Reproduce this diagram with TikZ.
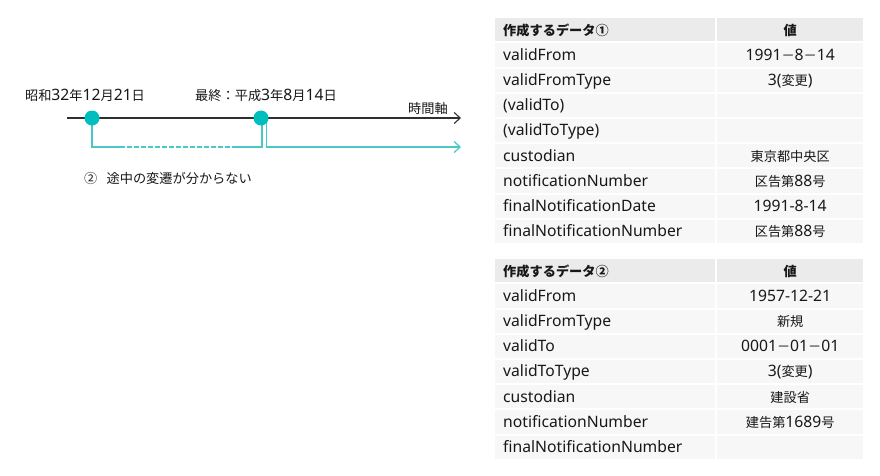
\documentclass[tikz,border=0pt]{standalone}
\usepackage{fontspec}
\setmainfont{Noto Sans}
\newfontfamily\jp{Noto Sans CJK JP}
\newcommand\jtext[1]{{\jp\fontsize{13.2}{15}\selectfont #1}}
\usetikzlibrary{arrows.meta,backgrounds}
\definecolor{tealdot}{HTML}{00BEBE}
\definecolor{tealline}{HTML}{48C8C8}
\definecolor{headgray}{HTML}{EBEBEB}
\definecolor{rowgray}{HTML}{F7F7F7}
\definecolor{txt}{HTML}{181818}
\tikzset{
  dot/.style={circle,fill=tealdot,inner sep=0pt,minimum size=15pt},
  lbl/.style={font=\fontsize{15.7}{17}\selectfont,text=txt,inner sep=0pt},
  axis/.style={line width=1.1pt,draw=txt!90,-{Straight Barb[length=6pt,width=11pt]}},
  flow/.style={line width=1.2pt,draw=tealline},
  namecell/.style={fill=#1,anchor=west,text width=204pt,inner xsep=8pt,inner ysep=0pt,
    minimum height=23.2pt,align=left,text=txt,text height=12.5pt,text depth=2pt,
    font=\fontsize{15.7}{17}\selectfont},
  valcell/.style={fill=#1,anchor=west,minimum width=146pt,inner sep=0pt,
    minimum height=23.2pt,text=txt,text height=12.5pt,text depth=2pt,
    font=\fontsize{15.7}{17}\selectfont},
}
\begin{document}
\begin{tikzpicture}[x=1pt,y=-1pt]
  \useasboundingbox (0,0) rectangle (880,475);
  \begin{scope}[on background layer]
    \fill[white] (0,0) rectangle (880,475);
  \end{scope}

  %%%%%%%%%%%%%%%%%%%%%%%%%%%%%%%%%%%%%%%%%%%%%%%%%%%%%%%%%%%%%%%%%%%%%%%%%%%
  %%%%  Timeline
  \coordinate (t0) at (67,118);
  \coordinate (t1) at (461,118);
  \draw[axis] (t0) -- (t1);

  \node[dot] (first) at (92,118) {};
  \node[dot] (last) at (261,118) {};

  \coordinate (dashA) at (120,147);
  \coordinate (dashB) at (232,147);
  \coordinate (now) at (461,147);

  \begin{scope}[on background layer]
    \draw[flow] (first.center) |- (dashA);
    \draw[flow,dash pattern=on 4.5pt off 2.5pt] (dashA) -- (dashB);
    \draw[flow] (dashB) -| ([xshift=1pt]last.center);
    \draw[flow,-{Straight Barb[length=6pt,width=11pt]}] ([xshift=5.5pt]last.center) |- (now);
  \end{scope}

  \node[lbl] (firstlbl) at (85,95) {\jtext{昭和}32\jtext{年}12\jtext{月}21\jtext{日}};
  \node[lbl] (lastlbl) at (266,95) {\jtext{最終：平成}3\jtext{年}8\jtext{月}14\jtext{日}};
  \node[lbl,anchor=east] (axislbl) at (448,108) {\jtext{時間軸}};
  \node[lbl] (note) at (168,178) {\jtext{②\hspace{0.7em}途中の変遷が分からない}};

  %%%%%%%%%%%%%%%%%%%%%%%%%%%%%%%%%%%%%%%%%%%%%%%%%%%%%%%%%%%%%%%%%%%%%%%%%%%
  %%%%  Data 1
  \pgfmathsetmacro\topA{29.8}
  \node[namecell=headgray] (ahead) at (495,\topA) {\jtext{\bfseries 作成するデータ①}};
  \node[valcell=headgray] (aheadv) at (717,\topA) {\jtext{\bfseries 値}};
  \foreach \n/\v [count=\i from 1] in
    {validFrom/1991\jtext{－}8\jtext{－}14,
     validFromType/3(\jtext{変更}),
     (validTo)/{},
     (validToType)/{},
     custodian/\jtext{東京都中央区},
     notificationNumber/\jtext{区告第}88\jtext{号},
     finalNotificationDate/1991-8-14,
     finalNotificationNumber/\jtext{区告第}88\jtext{号}}
  {\pgfmathsetmacro\yy{\topA + \i*25.2}
   \node[namecell=rowgray] (an\i) at (495,\yy) {\n};
   \node[valcell=rowgray] (av\i) at (717,\yy) {\v};
  };

  %%%%%%%%%%%%%%%%%%%%%%%%%%%%%%%%%%%%%%%%%%%%%%%%%%%%%%%%%%%%%%%%%%%%%%%%%%%
  %%%%  Data 2
  \pgfmathsetmacro\topB{270.8}
  \node[namecell=headgray] (bhead) at (495,\topB) {\jtext{\bfseries 作成するデータ②}};
  \node[valcell=headgray] (bheadv) at (717,\topB) {\jtext{\bfseries 値}};
  \foreach \n/\v [count=\i from 1] in
    {validFrom/1957-12-21,
     validFromType/\jtext{新規},
     validTo/0001\jtext{－}01\jtext{－}01,
     validToType/3(\jtext{変更}),
     custodian/\jtext{建設省},
     notificationNumber/\jtext{建告第}1689\jtext{号},
     finalNotificationNumber/{}}
  {\pgfmathsetmacro\yy{\topB + \i*25.2}
   \node[namecell=rowgray] (bn\i) at (495,\yy) {\n};
   \node[valcell=rowgray] (bv\i) at (717,\yy) {\v};
  };
\end{tikzpicture}
\end{document}
